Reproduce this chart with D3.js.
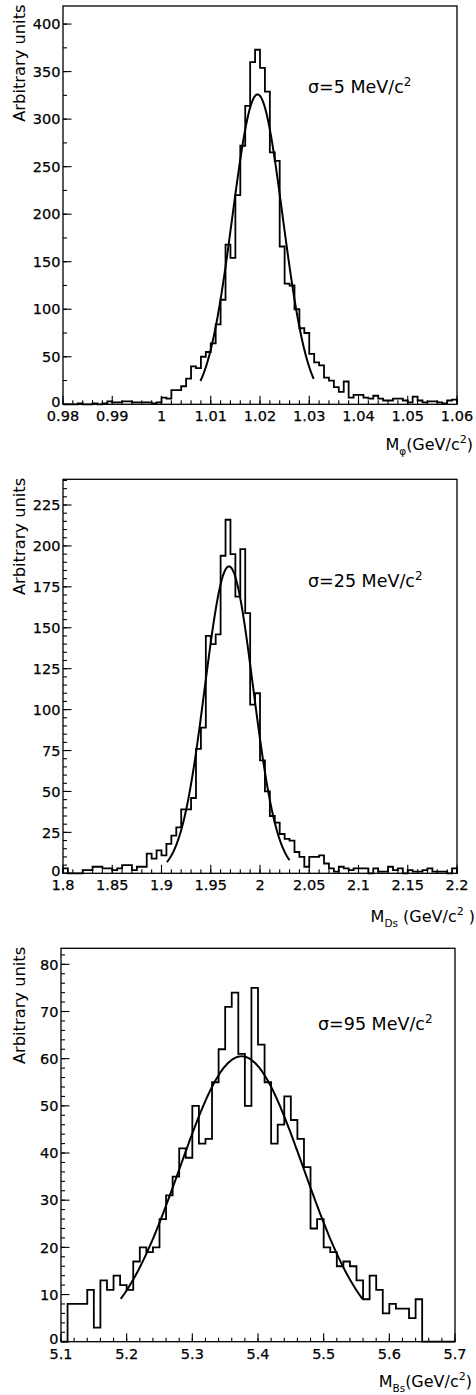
<!DOCTYPE html>
<html><head><meta charset="utf-8">
<script src="https://cdn.jsdelivr.net/npm/d3@7"></script>
<style>body{margin:0;background:#fff}svg{display:block}</style>
</head><body>
<svg id="c" width="476" height="1395"></svg>
<script>
// ---------- data ----------
const phiRange = [0.98, 1.06];
const phiCounts = [0,0,0,1,0,0,1,0,1,3, 2,2,3,3,2,2,2,2,1,2,
  7,6,15,15,19,27,40,38,50,55, 64,84,110,168,154,220,272,314,360,373,
  354,329,265,256,166,127,125,100,80,75, 53,44,41,28,25,18,13,24,7,10,
  10,7,6,9,6,4,4,6,6,4, 2,8,4,2,3,3,2,1,4,5];
const phiXTicks = [0.98,0.99,1,1.01,1.02,1.03,1.04,1.05,1.06];
const phiXTickLabels = ["0.98","0.99","1","1.01","1.02","1.03","1.04","1.05","1.06"];
const phiYTicks = [0,50,100,150,200,250,300,350,400];
const phiYMax = 419;
const phiFit = [326, 1.0195, 0.0051, 1.0079, 1.0309];

const dsRange = [1.8, 2.2];
const dsCounts = [3,0,0,0,2,2,4,4,3,3, 2,3,5,5,2,4,4,12,9,14,
  11,18,23,28,39,39,46,76,89,145, 140,146,194,216,195,169,198,159,103,110,
  69,50,35,31,24,21,20,13,10,4, 10,10,11,6,3,1,4,3,2,3,
  3,3,0,3,1,1,4,2,3,0, 2,1,1,2,3,1,1,1,0,3];
const dsXTicks = [1.8,1.85,1.9,1.95,2,2.05,2.1,2.15,2.2];
const dsXTickLabels = ["1.8","1.85","1.9","1.95","2","2.05","2.1","2.15","2.2"];
const dsYTicks = [0,25,50,75,100,125,150,175,200,225];
const dsYMax = 240.7;
const dsFit = [187.5, 1.9685, 0.0245, 1.9055, 2.030];

const bsRange = [5.1, 5.7];
const bsCounts = [0,8,8,8,11,3,13,11,14,12, 11,17,20,19,20,26,31,35,41,39,
  50,42,43,55,62,71,74,61,50,75, 63,55,42,46,52,47,43,37,24,26,
  20,19,16,17,16,13,9,14,11,6, 8,7,7,5,9,0,0,0,0,0];
const bsXTicks = [5.1,5.2,5.3,5.4,5.5,5.6,5.7];
const bsXTickLabels = ["5.1","5.2","5.3","5.4","5.5","5.6","5.7"];
const bsYTicks = [0,10,20,30,40,50,60,70,80];
const bsYMax = 83.4;
const bsFit = [60.5, 5.375, 0.0945, 5.191, 5.559];

const yTitle = "Arbitrary units";
const sigmaLabels = ["σ=5 MeV/c", "σ=25 MeV/c", "σ=95 MeV/c"];
const massSubs = ["φ", "Ds", "Bs"];

// ---------- layout (built from the arrays above) ----------
const panels = [
  {range: phiRange, counts: phiCounts, xt: phiXTicks, xl: phiXTickLabels, yt: phiYTicks, ymax: phiYMax, fit: phiFit,
   xMinor: 0.002, yMinor: 25, sig: sigmaLabels[0], sub: massSubs[0],
   box: {l: 63, r: 457, t: 6, b: 404.3}, sigPos: [308, 93], titlePos: [473, 450], subSpace: ""},
  {range: dsRange, counts: dsCounts, xt: dsXTicks, xl: dsXTickLabels, yt: dsYTicks, ymax: dsYMax, fit: dsFit,
   xMinor: 0.01, yMinor: 5, sig: sigmaLabels[1], sub: massSubs[1],
   box: {l: 63, r: 457, t: 479.3, b: 873.3}, sigPos: [308, 586.7], titlePos: [475, 921.5], subSpace: " "},
  {range: bsRange, counts: bsCounts, xt: bsXTicks, xl: bsXTickLabels, yt: bsYTicks, ymax: bsYMax, fit: bsFit,
   xMinor: 0.02, yMinor: 2, sig: sigmaLabels[2], sub: massSubs[2],
   box: {l: 61, r: 455, t: 948.3, b: 1341.7}, sigPos: [318, 1030], titlePos: [472, 1386.5], subSpace: ""}
];

const svg = d3.select("#c");
const FONT = "'DejaVu Sans', 'Liberation Sans', sans-serif";

panels.forEach((p, pi) => {
  const B = p.box;
  const x = d3.scaleLinear().domain(p.range).range([B.l, B.r]);
  const y = d3.scaleLinear().domain([0, p.ymax]).range([B.b, B.t]);
  const g = svg.append("g");

  // frame
  g.append("rect").attr("x", B.l).attr("y", B.t).attr("width", B.r - B.l).attr("height", B.b - B.t)
    .attr("fill", "none").attr("stroke", "#000").attr("stroke-width", 1.3);

  // x ticks
  const nx = Math.round((p.range[1] - p.range[0]) / p.xMinor);
  const minorX = d3.range(nx + 1).map(i => p.range[0] + i * p.xMinor);
  g.selectAll(null).data(minorX).enter().append("line")
    .attr("x1", d => x(d)).attr("x2", d => x(d)).attr("y1", B.b).attr("y2", B.b - 4)
    .attr("stroke", "#000").attr("stroke-width", 1.1);
  g.selectAll(null).data(p.xt).enter().append("line")
    .attr("x1", d => x(d)).attr("x2", d => x(d)).attr("y1", B.b).attr("y2", B.b - 8.5)
    .attr("stroke", "#000").attr("stroke-width", 1.1);
  g.selectAll(null).data(p.xt).enter().append("text")
    .attr("x", d => x(d)).attr("y", B.b + 17).attr("text-anchor", "middle")
    .attr("font-family", FONT).attr("font-size", 14.5).attr("fill", "#000")
    .attr("stroke", "#000").attr("stroke-width", 0.25)
    .text((d, i) => p.xl[i]);

  // y ticks
  const ny = Math.floor(p.ymax / p.yMinor + 1e-9);
  const minorY = d3.range(ny + 1).map(i => i * p.yMinor);
  g.selectAll(null).data(minorY).enter().append("line")
    .attr("x1", B.l).attr("x2", B.l + 4).attr("y1", d => y(d)).attr("y2", d => y(d))
    .attr("stroke", "#000").attr("stroke-width", 1.1);
  g.selectAll(null).data(p.yt).enter().append("line")
    .attr("x1", B.l).attr("x2", B.l + 8.5).attr("y1", d => y(d)).attr("y2", d => y(d))
    .attr("stroke", "#000").attr("stroke-width", 1.1);
  g.selectAll(null).data(p.yt).enter().append("text")
    .attr("x", B.l - 2.5).attr("y", d => y(d) - (d === 0 ? 3 : 0)).attr("dy", "0.36em").attr("text-anchor", "end")
    .attr("font-family", FONT).attr("font-size", 14.5).attr("fill", "#000")
    .attr("stroke", "#000").attr("stroke-width", 0.25)
    .text(d => d);

  // histogram outline
  const n = p.counts.length;
  const w = (p.range[1] - p.range[0]) / n;
  const pts = [[p.range[0], 0]];
  p.counts.forEach((c, i) => { pts.push([p.range[0] + i * w, c]); pts.push([p.range[0] + (i + 1) * w, c]); });
  pts.push([p.range[1], 0]);
  const line = d3.line().x(d => x(d[0])).y(d => y(d[1]));
  g.append("path").attr("d", line(pts)).attr("fill", "none").attr("stroke", "#000")
    .attr("stroke-width", 1.8).attr("stroke-linejoin", "miter");

  // gaussian fit
  const [A, mu, s, lo, hi] = p.fit;
  const fpts = d3.range(201).map(i => { const xv = lo + (hi - lo) * i / 200; return [xv, A * Math.exp(-0.5 * ((xv - mu) / s) ** 2)]; });
  g.append("path").attr("d", d3.line().x(d => x(d[0])).y(d => y(d[1]))(fpts))
    .attr("fill", "none").attr("stroke", "#000").attr("stroke-width", 2);

  // y title
  g.append("text").attr("transform", `translate(25,${B.t - 1.5}) rotate(-90)`)
    .attr("text-anchor", "end").attr("font-family", FONT).attr("font-size", 16.3).attr("fill", "#000")
    .text(yTitle);

  // sigma label
  const st = g.append("text").attr("x", p.sigPos[0]).attr("y", p.sigPos[1])
    .attr("font-family", FONT).attr("font-size", 17.5).attr("fill", "#000");
  st.append("tspan").text(p.sig);
  st.append("tspan").attr("font-size", 12).attr("dy", -7).text("2");

  // x title
  const tt = g.append("text").attr("x", p.titlePos[0]).attr("y", p.titlePos[1]).attr("text-anchor", "end")
    .attr("font-family", FONT).attr("font-size", 16).attr("fill", "#000");
  tt.append("tspan").text("M");
  tt.append("tspan").attr("font-size", 10.5).attr("dy", 5).text(p.sub);
  tt.append("tspan").attr("dy", -5).text(p.subSpace + "(GeV/c");
  tt.append("tspan").attr("font-size", 11).attr("dy", -7).text("2");
  tt.append("tspan").attr("dy", 7).text(p.subSpace + ")");
});
</script>
</body></html>
